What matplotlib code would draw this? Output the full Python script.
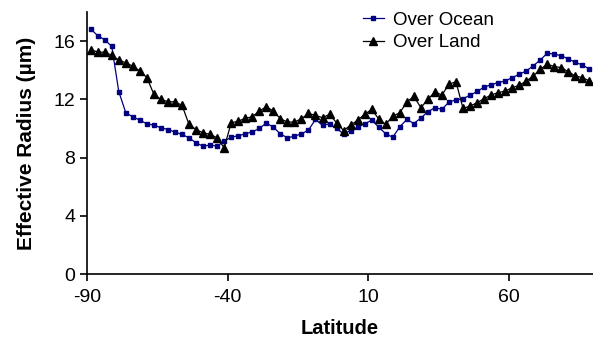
import numpy as np
import matplotlib
matplotlib.use("Agg")
import matplotlib.pyplot as plt

plt.rcParams['font.family'] = ['Liberation Sans', 'DejaVu Sans']
plt.rcParams['axes.unicode_minus'] = False

# latitude bin centres, 2.5 degree bins
lat = np.arange(-88.75, 90, 2.5)

# effective radius (um)
ocean = [16.83, 16.37, 16.09, 15.63, 12.53, 11.08, 10.80, 10.57, 10.32, 10.23,
         10.05, 9.93, 9.75, 9.59, 9.36, 9.01, 8.78, 8.87, 8.78, 9.13,
         9.40, 9.50, 9.63, 9.77, 10.00, 10.37, 10.09, 9.63, 9.36, 9.47,
         9.63, 9.89, 10.62, 10.21, 10.32, 10.00, 9.63, 9.86, 10.09, 10.32,
         10.57, 10.10, 9.63, 9.40, 10.12, 10.62, 10.34, 10.72, 11.15, 11.43,
         11.31, 11.82, 11.96, 12.05, 12.28, 12.54, 12.84, 13.00, 13.15, 13.26,
         13.49, 13.72, 13.95, 14.30, 14.71, 15.17, 15.10, 14.99, 14.78, 14.53,
         14.36, 14.07]
land = [15.40, 15.26, 15.22, 15.03, 14.69, 14.51, 14.28, 13.95, 13.49, 12.34,
        12.00, 11.84, 11.82, 11.59, 10.28, 9.93, 9.70, 9.59, 9.36, 8.67,
        10.39, 10.50, 10.70, 10.80, 11.20, 11.49, 11.20, 10.67, 10.44, 10.44,
        10.67, 11.03, 10.90, 10.74, 10.97, 10.39, 9.86, 10.23, 10.57, 10.97,
        11.31, 10.65, 10.28, 10.85, 11.08, 11.82, 12.20, 11.43, 12.00, 12.51,
        12.30, 13.05, 13.20, 11.38, 11.54, 11.77, 12.05, 12.30, 12.46, 12.57,
        12.80, 12.97, 13.26, 13.60, 14.07, 14.41, 14.25, 14.18, 13.89, 13.60,
        13.49, 13.26]

xticks = [-90, -40, 10, 60]
yticks = [0, 4, 8, 12, 16]

fig = plt.figure(figsize=(5.93, 3.41), dpi=100)
ax = fig.add_axes([0.147, 0.196, 0.853, 0.769])

ax.plot(lat, ocean, color='#000080', lw=0.9, marker='s', ms=2.6,
        label='Over Ocean', clip_on=False)
ax.plot(lat, land, color='black', lw=0.9, marker='^', ms=6,
        label='Over Land', clip_on=False)

ax.set_xlim(-90, 90)
ax.set_ylim(0, 18)
ax.set_xticks(xticks)
ax.set_yticks(yticks)
ax.tick_params(labelsize=14, direction='out', length=5, width=1.2)
ax.tick_params(axis='x', pad=6)
for s in ['top', 'right']:
    ax.spines[s].set_visible(False)
for s in ['left', 'bottom']:
    ax.spines[s].set_linewidth(1.2)

ax.set_xlabel('Latitude', fontsize=14.5, fontweight='bold', labelpad=9)
ax.set_ylabel('Effective Radius (\u00b5m)', fontsize=15, fontweight='bold', labelpad=13)

ax.legend(loc='upper left', bbox_to_anchor=(0.59, 1.005), bbox_transform=fig.transFigure,
          frameon=False, fontsize=13.5, handlelength=1.1, handletextpad=0.5,
          labelspacing=0.3, borderpad=0.2)

fig.savefig('out.png', dpi=100)
